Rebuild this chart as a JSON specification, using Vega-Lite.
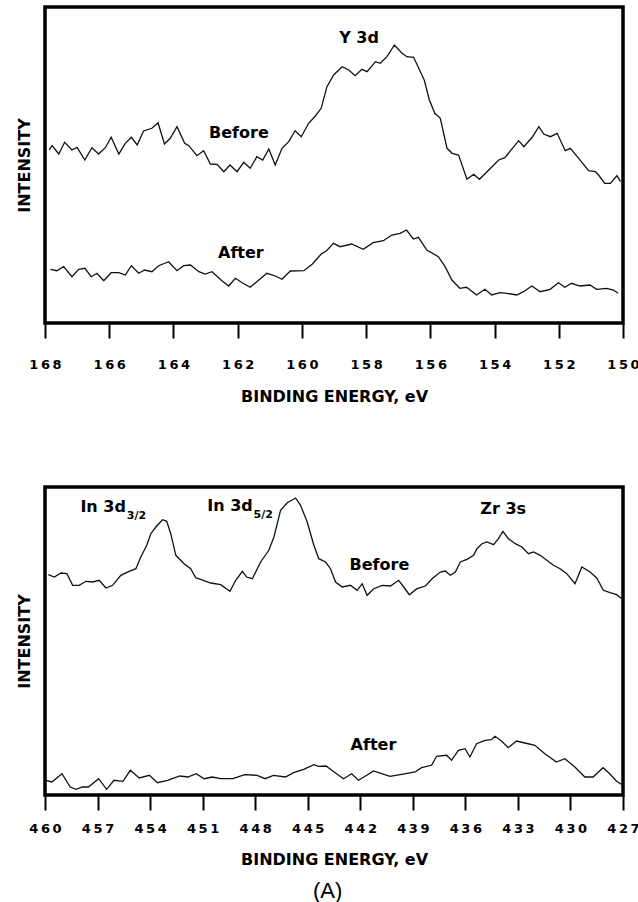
{
  "$schema": "https://vega.github.io/schema/vega-lite/v6.json",
  "background": "white",
  "padding": {"left": 14, "top": 5, "right": 0, "bottom": 0},
  "spacing": 79,
  "config": {
    "view": {"stroke": "black", "strokeWidth": 3.5},
    "font": "DejaVu Sans",
    "line": {"color": "#111", "strokeWidth": 1.3},
    "text": {"font": "DejaVu Sans", "fontWeight": "bold", "fontSize": 16, "color": "black", "baseline": "middle"}
  },
  "title": {"text": "(A)", "orient": "bottom", "anchor": "middle", "font": "Liberation Sans", "fontSize": 22, "fontWeight": "normal", "color": "black", "offset": 12},
  "datasets": {
    "topBefore": [
      {"E":167.87,"I":173},{"E":167.78,"I":177.3},{"E":167.57,"I":169},{"E":167.39,"I":180.7},{"E":167.16,"I":173},{"E":167.0,"I":175.7},{"E":166.76,"I":163},{"E":166.54,"I":175.3},{"E":166.33,"I":169},{"E":166.12,"I":175.3},{"E":165.94,"I":185.7},{"E":165.7,"I":169},{"E":165.5,"I":179.7},{"E":165.31,"I":185.7},{"E":165.13,"I":178},{"E":164.93,"I":192},{"E":164.67,"I":194.7},{"E":164.48,"I":200.3},{"E":164.28,"I":179},{"E":164.1,"I":184.7},{"E":163.89,"I":196.3},{"E":163.65,"I":179.7},{"E":163.52,"I":177.3},{"E":163.27,"I":167.3},{"E":163.06,"I":172.3},{"E":162.85,"I":159},{"E":162.64,"I":158.7},{"E":162.43,"I":151.3},{"E":162.24,"I":158},{"E":162.02,"I":151.3},{"E":161.81,"I":160.7},{"E":161.61,"I":154.7},{"E":161.4,"I":166.3},{"E":161.22,"I":163},{"E":161.03,"I":174},{"E":160.83,"I":158},{"E":160.62,"I":174.7},{"E":160.41,"I":181.3},{"E":160.21,"I":192.3},{"E":160.02,"I":186.3},{"E":159.79,"I":199.7},{"E":159.58,"I":207},{"E":159.4,"I":214.7},{"E":159.22,"I":236.3},{"E":159.01,"I":248},{"E":158.75,"I":256.3},{"E":158.54,"I":253},{"E":158.34,"I":247.3},{"E":158.13,"I":253.7},{"E":157.97,"I":251.3},{"E":157.71,"I":261.3},{"E":157.56,"I":259.7},{"E":157.35,"I":266.3},{"E":157.12,"I":278},{"E":156.88,"I":269.7},{"E":156.73,"I":266.3},{"E":156.52,"I":265.7},{"E":156.19,"I":243},{"E":156.03,"I":223},{"E":155.86,"I":209.7},{"E":155.69,"I":204.7},{"E":155.48,"I":174.7},{"E":155.32,"I":169.7},{"E":155.12,"I":168},{"E":154.86,"I":143.7},{"E":154.65,"I":148.7},{"E":154.47,"I":143.7},{"E":154.18,"I":153},{"E":153.87,"I":163},{"E":153.68,"I":165.3},{"E":153.4,"I":176.3},{"E":153.25,"I":182.3},{"E":153.09,"I":176.3},{"E":152.83,"I":185.7},{"E":152.62,"I":196.3},{"E":152.47,"I":189},{"E":152.26,"I":186.3},{"E":152.05,"I":189.7},{"E":151.8,"I":172.3},{"E":151.64,"I":174.7},{"E":151.38,"I":164.7},{"E":151.07,"I":152.3},{"E":150.86,"I":151.3},{"E":150.76,"I":148},{"E":150.57,"I":139.7},{"E":150.39,"I":139.7},{"E":150.19,"I":147.3},{"E":150.08,"I":141.3}
    ],
    "topAfter": [
      {"E":167.83,"I":53.7},{"E":167.63,"I":52.3},{"E":167.42,"I":56.3},{"E":167.16,"I":46.3},{"E":166.95,"I":53.7},{"E":166.76,"I":54.7},{"E":166.56,"I":46.3},{"E":166.38,"I":49.7},{"E":166.17,"I":42.3},{"E":165.94,"I":50.3},{"E":165.7,"I":50.3},{"E":165.5,"I":48},{"E":165.31,"I":57.3},{"E":165.08,"I":49.7},{"E":164.9,"I":53},{"E":164.67,"I":51.3},{"E":164.46,"I":57.3},{"E":164.15,"I":61.3},{"E":163.89,"I":52.3},{"E":163.68,"I":57.3},{"E":163.47,"I":58},{"E":163.21,"I":51.3},{"E":163.01,"I":49},{"E":162.8,"I":51.3},{"E":162.49,"I":42.3},{"E":162.28,"I":37},{"E":162.07,"I":44.7},{"E":161.86,"I":40.3},{"E":161.61,"I":35.7},{"E":161.34,"I":43},{"E":161.09,"I":49.7},{"E":160.83,"I":47},{"E":160.62,"I":43.7},{"E":160.36,"I":52},{"E":159.94,"I":52.3},{"E":159.68,"I":58.7},{"E":159.4,"I":69},{"E":159.23,"I":72.3},{"E":159.02,"I":79.7},{"E":158.81,"I":76.3},{"E":158.45,"I":79},{"E":158.09,"I":73.7},{"E":157.78,"I":80.3},{"E":157.46,"I":82.3},{"E":157.2,"I":88},{"E":156.94,"I":89.7},{"E":156.74,"I":93},{"E":156.53,"I":84},{"E":156.37,"I":85.7},{"E":156.11,"I":73},{"E":155.75,"I":66.3},{"E":155.54,"I":56.3},{"E":155.33,"I":43},{"E":155.08,"I":34.7},{"E":154.87,"I":35.7},{"E":154.56,"I":28},{"E":154.3,"I":33.7},{"E":154.09,"I":28},{"E":153.83,"I":30.3},{"E":153.62,"I":29.7},{"E":153.31,"I":28},{"E":153.1,"I":31.3},{"E":152.84,"I":37},{"E":152.58,"I":31.3},{"E":152.27,"I":33.7},{"E":152.01,"I":40.3},{"E":151.81,"I":35.7},{"E":151.6,"I":39.7},{"E":151.34,"I":37},{"E":151.03,"I":38},{"E":150.82,"I":33.7},{"E":150.51,"I":34.7},{"E":150.3,"I":33},{"E":150.15,"I":29.7}
    ],
    "topLabels": [
      {"E":158.22,"I":285,"t":"Y 3d"},{"E":161.96,"I":190,"t":"Before"},{"E":161.9,"I":70,"t":"After"}
    ],
    "botBefore": [
      {"E":459.81,"I":220.3},{"E":459.47,"I":218},{"E":459.09,"I":222},{"E":458.75,"I":221.3},{"E":458.42,"I":209.7},{"E":458.05,"I":209.7},{"E":457.66,"I":213.7},{"E":457.28,"I":213},{"E":456.91,"I":214.7},{"E":456.52,"I":207},{"E":456.14,"I":209.7},{"E":455.67,"I":219.7},{"E":455.2,"I":223.7},{"E":454.81,"I":226.3},{"E":454.53,"I":238},{"E":454.19,"I":249.7},{"E":453.96,"I":261.3},{"E":453.67,"I":268},{"E":453.29,"I":275.3},{"E":453.05,"I":273.7},{"E":452.82,"I":261.3},{"E":452.53,"I":239.7},{"E":452.06,"I":231.3},{"E":451.68,"I":226.3},{"E":451.39,"I":217},{"E":451.11,"I":215.7},{"E":450.54,"I":212},{"E":449.97,"I":210.3},{"E":449.44,"I":203.7},{"E":449.11,"I":214.7},{"E":448.73,"I":223.7},{"E":448.49,"I":218},{"E":448.16,"I":216.3},{"E":447.69,"I":233},{"E":447.22,"I":244.7},{"E":446.93,"I":258},{"E":446.55,"I":284.7},{"E":446.17,"I":292.3},{"E":445.69,"I":297},{"E":445.41,"I":289.7},{"E":445.03,"I":273},{"E":444.65,"I":249.7},{"E":444.37,"I":236.3},{"E":443.98,"I":233},{"E":443.7,"I":226.3},{"E":443.41,"I":213},{"E":443.03,"I":208},{"E":442.56,"I":209.7},{"E":442.18,"I":204.7},{"E":441.89,"I":211.3},{"E":441.61,"I":199.7},{"E":441.23,"I":206.3},{"E":440.75,"I":209.7},{"E":440.28,"I":209},{"E":439.81,"I":214.7},{"E":439.52,"I":208},{"E":439.2,"I":200.3},{"E":438.76,"I":206.3},{"E":438.28,"I":209},{"E":437.9,"I":216.3},{"E":437.43,"I":223},{"E":437.14,"I":224},{"E":436.86,"I":219.7},{"E":436.57,"I":223},{"E":436.29,"I":233},{"E":435.91,"I":235.7},{"E":435.53,"I":239.7},{"E":435.34,"I":246.3},{"E":435.05,"I":251.3},{"E":434.77,"I":253},{"E":434.39,"I":250.3},{"E":434.11,"I":256.3},{"E":433.86,"I":263.7},{"E":433.54,"I":256.3},{"E":433.15,"I":251.3},{"E":432.77,"I":248},{"E":432.4,"I":241.3},{"E":432.11,"I":243},{"E":431.73,"I":239.7},{"E":431.35,"I":234.7},{"E":430.97,"I":229.7},{"E":430.59,"I":226.3},{"E":430.21,"I":221.3},{"E":429.74,"I":211.3},{"E":429.35,"I":228},{"E":428.88,"I":223},{"E":428.5,"I":217},{"E":428.12,"I":204.7},{"E":427.74,"I":202.3},{"E":427.36,"I":200.3},{"E":427.07,"I":196.3}
    ],
    "botAfter": [
      {"E":459.95,"I":14.7},{"E":459.61,"I":13},{"E":459.03,"I":21.3},{"E":458.56,"I":8},{"E":458.22,"I":5.7},{"E":457.87,"I":8},{"E":457.52,"I":8},{"E":456.94,"I":16.3},{"E":456.48,"I":5.7},{"E":456.06,"I":14.7},{"E":455.55,"I":13.7},{"E":455.13,"I":24.7},{"E":454.62,"I":17},{"E":454.04,"I":19.7},{"E":453.58,"I":12.3},{"E":453.0,"I":14.7},{"E":452.3,"I":19},{"E":451.84,"I":18},{"E":451.37,"I":21.3},{"E":450.91,"I":16.3},{"E":450.45,"I":18},{"E":449.98,"I":16.3},{"E":449.28,"I":16.3},{"E":448.59,"I":20.3},{"E":447.89,"I":19.7},{"E":447.43,"I":16.3},{"E":446.96,"I":19.7},{"E":446.27,"I":18},{"E":445.81,"I":22.3},{"E":445.23,"I":25.7},{"E":444.65,"I":30.3},{"E":444.38,"I":28.7},{"E":443.95,"I":29},{"E":443.63,"I":24.7},{"E":442.96,"I":16.3},{"E":442.49,"I":21.3},{"E":442.1,"I":14.7},{"E":441.63,"I":19.7},{"E":441.25,"I":24},{"E":440.78,"I":21.3},{"E":440.3,"I":18.7},{"E":439.64,"I":20.7},{"E":438.87,"I":23},{"E":438.5,"I":27.3},{"E":437.93,"I":29.7},{"E":437.64,"I":38.7},{"E":437.07,"I":39.7},{"E":436.79,"I":34.7},{"E":436.4,"I":44.7},{"E":436.02,"I":46.3},{"E":435.74,"I":38},{"E":435.36,"I":51.3},{"E":434.88,"I":54.7},{"E":434.51,"I":55.3},{"E":434.31,"I":58.7},{"E":433.94,"I":54},{"E":433.55,"I":47.3},{"E":433.08,"I":54},{"E":432.6,"I":52},{"E":432.03,"I":49.7},{"E":431.46,"I":41.3},{"E":430.8,"I":33},{"E":430.32,"I":36.3},{"E":429.75,"I":28},{"E":429.18,"I":18},{"E":428.71,"I":18},{"E":428.14,"I":27.3},{"E":427.76,"I":21.3},{"E":427.38,"I":14},{"E":427.1,"I":10.7}
    ],
    "botLabels": [
      {"E":433.84,"I":286,"t":"Zr 3s"},{"E":440.91,"I":230,"t":"Before"},{"E":441.25,"I":50,"t":"After"}
    ],
    "botMain": [
      {"E":455.38,"I":288,"t":"In 3d"},{"E":448.14,"I":289,"t":"In 3d"}
    ],
    "botSub": [
      {"E":455.33,"I":279,"t":"3/2"},{"E":448.09,"I":280,"t":"5/2"}
    ]
  },
  "vconcat": [
    {
      "width": 578,
      "height": 316,
      "encoding": {
        "x": {"field": "E", "type": "quantitative",
          "scale": {"domain": [150, 168], "reverse": true, "nice": false, "zero": false},
          "axis": {"title": "BINDING ENERGY, eV", "values": [168,166,164,162,160,158,156,154,152,150],
            "domain": false, "grid": false, "tickSize": 15, "tickWidth": 2, "tickColor": "black",
            "labelFont": "DejaVu Sans", "labelFontWeight": "bold", "labelFontSize": 13, "labelColor": "black",
            "labelPadding": 20, "labelFlush": false, "labelOverlap": false,
            "labelExpr": "join(split(datum.label, ''), '\u2009')",
            "titleFont": "DejaVu Sans", "titleFontWeight": "bold", "titleFontSize": 16, "titleColor": "black", "titlePadding": 17}},
        "y": {"field": "I", "type": "quantitative",
          "scale": {"domain": [0, 316], "nice": false, "zero": false},
          "axis": {"title": "INTENSITY", "labels": false, "ticks": false, "domain": false, "grid": false,
            "titleFont": "DejaVu Sans", "titleFontWeight": "bold", "titleFontSize": 16, "titleColor": "black", "titlePadding": 13}}
      },
      "layer": [
        {"data": {"name": "topBefore"}, "mark": {"type": "line"}},
        {"data": {"name": "topAfter"}, "mark": {"type": "line"}},
        {"data": {"name": "topLabels"}, "mark": {"type": "text", "align": "center"}, "encoding": {"text": {"field": "t"}}}
      ]
    },
    {
      "width": 578,
      "height": 308,
      "encoding": {
        "x": {"field": "E", "type": "quantitative",
          "scale": {"domain": [427, 460], "reverse": true, "nice": false, "zero": false},
          "axis": {"title": "BINDING ENERGY, eV", "values": [460,457,454,451,448,445,442,439,436,433,430,427],
            "domain": false, "grid": false, "tickSize": 15, "tickWidth": 2, "tickColor": "black",
            "labelFont": "DejaVu Sans", "labelFontWeight": "bold", "labelFontSize": 13, "labelColor": "black",
            "labelPadding": 12, "labelFlush": false, "labelOverlap": false,
            "labelExpr": "join(split(datum.label, ''), '\u2009')",
            "titleFont": "DejaVu Sans", "titleFontWeight": "bold", "titleFontSize": 16, "titleColor": "black", "titlePadding": 16}},
        "y": {"field": "I", "type": "quantitative",
          "scale": {"domain": [0, 308], "nice": false, "zero": false},
          "axis": {"title": "INTENSITY", "labels": false, "ticks": false, "domain": false, "grid": false,
            "titleFont": "DejaVu Sans", "titleFontWeight": "bold", "titleFontSize": 16, "titleColor": "black", "titlePadding": 13}}
      },
      "layer": [
        {"data": {"name": "botBefore"}, "mark": {"type": "line"}},
        {"data": {"name": "botAfter"}, "mark": {"type": "line"}},
        {"data": {"name": "botLabels"}, "mark": {"type": "text", "align": "center"}, "encoding": {"text": {"field": "t"}}},
        {"data": {"name": "botMain"}, "mark": {"type": "text", "align": "right"}, "encoding": {"text": {"field": "t"}}},
        {"data": {"name": "botSub"}, "mark": {"type": "text", "align": "left", "fontSize": 11}, "encoding": {"text": {"field": "t"}}}
      ]
    }
  ]
}
